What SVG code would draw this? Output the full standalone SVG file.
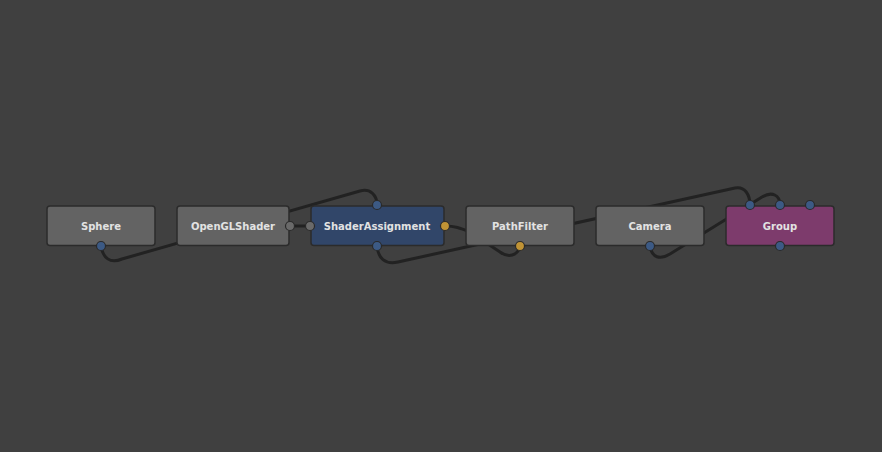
<svg xmlns="http://www.w3.org/2000/svg" width="882" height="452" viewBox="0 0 882 452">
<style>
.bg{fill:#404040}
.node rect{stroke:#2b2b2b;stroke-width:1.5}
.plain{fill:#636363}
.blue{fill:#314669}
.purple{fill:#7d3b6c}
.lbl{font-family:"DejaVu Sans",sans-serif;font-weight:bold;font-size:10px;fill:#e2e2e2;text-anchor:middle;dominant-baseline:central}
.conn path{fill:none;stroke:#222222;stroke-width:3;stroke-linecap:round}
.pb{fill:#3c5a85;stroke:#2a2a2a;stroke-width:1.2}
.pg{fill:#6a6a6a;stroke:#2a2a2a;stroke-width:1.2}
.po{fill:#c09335;stroke:#2a2a2a;stroke-width:1.2}
</style>
<rect class="bg" x="0" y="0" width="882" height="452"/>
<g id="connectors" class="conn">
<path d="M101,246 C103,258 110,264 122,259 L360,191 C370,188 377,195 377,205"/>
<path d="M290,226 L310,226"/>
<path d="M445,226 C455,226 460,228 470,232 L500,252 C508,258 518,256 520,246"/>
<path d="M377,246 C378,258 385,265 398,262 L735,188 C745,186 750,195 750,205"/>
<path d="M650,246 C652,258 660,260 670,254 L762,197 C772,191 780,195 780,205"/>
</g>
<g id="Sphere" class="node">
<rect class="plain" x="47" y="206" width="108" height="39.5" rx="3"/>
<text class="lbl" x="101" y="226">Sphere</text>
<circle class="pb" cx="101" cy="246" r="4.5"/>
</g>
<g id="OpenGLShader" class="node">
<rect class="plain" x="177" y="206" width="112" height="39.5" rx="3"/>
<text class="lbl" x="233" y="226">OpenGLShader</text>
<circle class="pg" cx="290" cy="226" r="4.5"/>
</g>
<g id="ShaderAssignment" class="node">
<rect class="blue" x="311" y="206" width="133" height="39.5" rx="3"/>
<text class="lbl" x="377" y="226">ShaderAssignment</text>
<circle class="pg" cx="310" cy="226" r="4.5"/>
<circle class="pb" cx="377" cy="205" r="4.5"/>
<circle class="pb" cx="377" cy="246" r="4.5"/>
<circle class="po" cx="445" cy="226" r="4.5"/>
</g>
<g id="PathFilter" class="node">
<rect class="plain" x="466" y="206" width="108" height="39.5" rx="3"/>
<text class="lbl" x="520" y="226">PathFilter</text>
<circle class="po" cx="520" cy="246" r="4.5"/>
</g>
<g id="Camera" class="node">
<rect class="plain" x="596" y="206" width="108" height="39.5" rx="3"/>
<text class="lbl" x="650" y="226">Camera</text>
<circle class="pb" cx="650" cy="246" r="4.5"/>
</g>
<g id="Group" class="node">
<rect class="purple" x="726" y="206" width="108" height="39.5" rx="3"/>
<text class="lbl" x="780" y="226">Group</text>
<circle class="pb" cx="750" cy="205" r="4.5"/>
<circle class="pb" cx="780" cy="205" r="4.5"/>
<circle class="pb" cx="810" cy="205" r="4.5"/>
<circle class="pb" cx="780" cy="246" r="4.5"/>
</g>
</svg>
